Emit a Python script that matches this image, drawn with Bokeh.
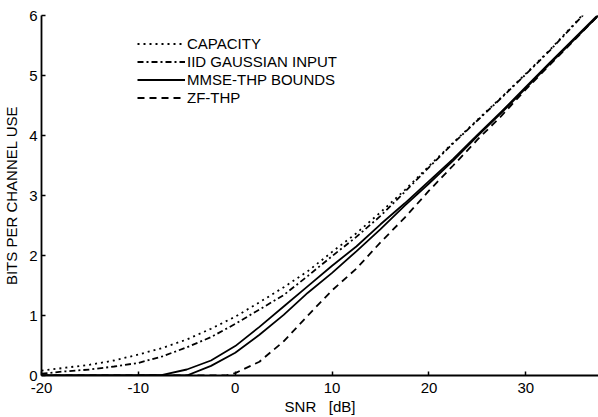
from bokeh.plotting import figure
from bokeh.models import Range1d, FixedTicker, Legend
from bokeh.embed import file_html
from bokeh.resources import INLINE

snr = [-20, -17.5, -15, -12.5, -10, -7.5, -5, -2.5, 0, 2.5, 5, 7.5, 10,
       12.5, 15, 17.5, 20, 22.5, 25, 27.5, 30, 32.5, 35, 37.5]
capacity = [0.08, 0.13, 0.18, 0.25, 0.35, 0.46, 0.60, 0.78, 0.98, 1.22, 1.47, 1.74, 2.06,
            2.37, 2.72, 3.09, 3.49, 3.88, 4.26, 4.64, 5.03, 5.43, 5.86, 6.30]
iid_gauss = [0.03, 0.07, 0.10, 0.15, 0.21, 0.32, 0.47, 0.64, 0.86, 1.10, 1.34, 1.66, 1.99,
             2.31, 2.66, 3.06, 3.47, 3.87, 4.25, 4.63, 5.02, 5.42, 5.85, 6.28]
mmse_upper = [0, 0, 0, 0, 0, 0.01, 0.10, 0.25, 0.49, 0.81, 1.15, 1.49, 1.83,
              2.15, 2.52, 2.87, 3.24, 3.61, 4.01, 4.40, 4.81, 5.22, 5.62, 6.02]
mmse_lower = [0, 0, 0, 0, 0, 0, 0, 0.16, 0.38, 0.68, 1.01, 1.38, 1.71,
              2.07, 2.44, 2.83, 3.20, 3.58, 3.99, 4.38, 4.79, 5.20, 5.60, 6.00]
zf_snr = [-20, -10, -1, 0, 2.5, 5, 7.5, 10, 12.5, 15, 17.5, 20, 22.5, 25, 27.5, 30, 32.5, 35, 37.5]
zf_thp = [0, 0, 0, 0.04, 0.23, 0.57, 1.00, 1.42, 1.78, 2.22, 2.63, 3.08, 3.50, 3.93, 4.33,
          4.77, 5.18, 5.59, 6.00]

x_ticks = [-20, -10, 0, 10, 20, 30]
y_ticks = [0, 1, 2, 3, 4, 5, 6]

FONT = "Liberation Sans"

p = figure(width=598, height=417, output_backend="svg", toolbar_location=None,
           x_range=Range1d(-20, 37.5), y_range=Range1d(0, 6),
           min_border_left=41, min_border_top=15, min_border_bottom=39, min_border_right=0)
p.outline_line_color = None
p.xgrid.visible = False
p.ygrid.visible = False

for ax in (p.xaxis[0], p.yaxis[0]):
    ax.axis_line_width = 1.8
    ax.axis_line_color = "black"
    ax.major_tick_in = 4
    ax.major_tick_out = 0
    ax.minor_tick_in = 0
    ax.minor_tick_out = 0
    ax.major_tick_line_width = 1.5
    ax.major_label_text_font = FONT
    ax.major_label_text_font_size = "15px"
    ax.major_label_text_color = "black"
    ax.axis_label_text_font = FONT
    ax.axis_label_text_font_style = "normal"
    ax.axis_label_text_font_size = "15px"
    ax.axis_label_text_color = "black"

p.xaxis[0].ticker = FixedTicker(ticks=x_ticks)
p.yaxis[0].ticker = FixedTicker(ticks=y_ticks)
p.xaxis[0].major_label_overrides = {t: str(t) for t in x_ticks}
p.xaxis[0].major_label_standoff = 7
p.yaxis[0].major_label_standoff = 4
p.xaxis[0].axis_label = "SNR\u00a0\u00a0\u00a0[dB]"
p.yaxis[0].axis_label = "BITS PER CHANNEL USE"
p.xaxis[0].axis_label_standoff = 2
p.yaxis[0].axis_label_standoff = 6

lw = 1.8
r_cap = p.line(snr, capacity, line_color="black", line_width=lw, line_dash="2 4")
r_iid = p.line(snr, iid_gauss, line_color="black", line_width=lw, line_dash="6 3 2 3")
r_up = p.line(snr, mmse_upper, line_color="black", line_width=lw)
r_lo = p.line(snr, mmse_lower, line_color="black", line_width=lw)
r_zf = p.line(zf_snr, zf_thp, line_color="black", line_width=lw, line_dash="7 5")

legend = Legend(items=[("CAPACITY", [r_cap]), ("IID GAUSSIAN INPUT", [r_iid]),
                       ("MMSE-THP BOUNDS", [r_up]), ("ZF-THP", [r_zf])],
                location=(96, 269))
legend.border_line_color = None
legend.background_fill_alpha = 0
legend.padding = 0
legend.margin = 0
legend.spacing = 1
legend.glyph_width = 48
legend.glyph_height = 17
legend.label_height = 17
legend.label_standoff = 2
legend.label_text_font = FONT
legend.label_text_font_size = "15px"
legend.label_text_color = "black"
p.add_layout(legend, "center")

open("out.html", "w").write(file_html(p, INLINE))
